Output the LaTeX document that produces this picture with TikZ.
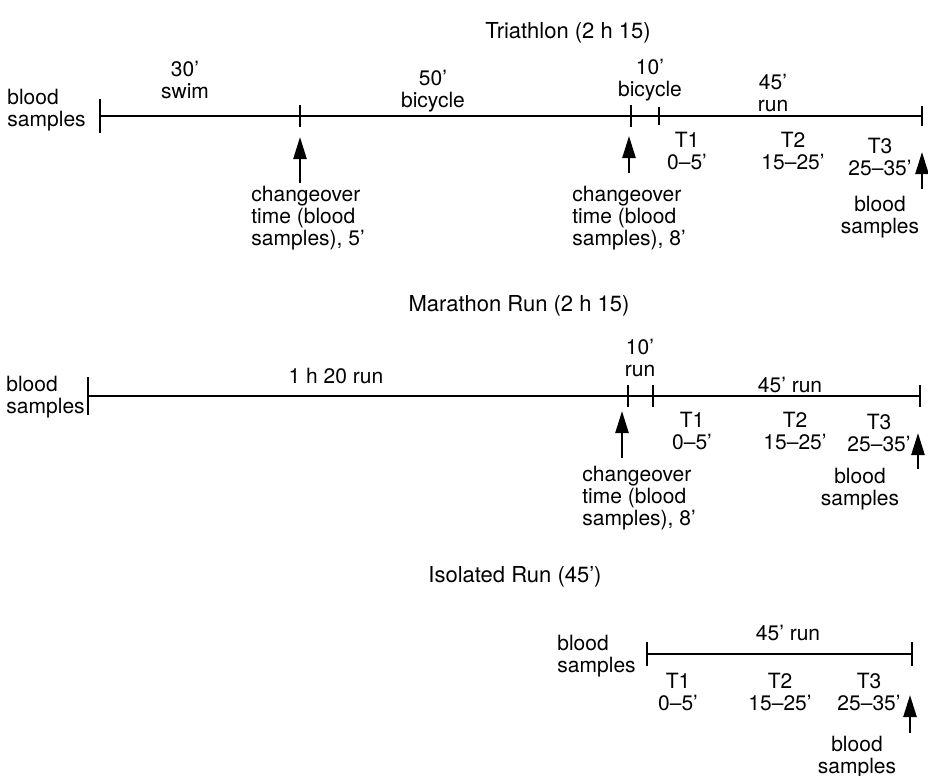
\documentclass[tikz,border=0pt]{standalone}
\usepackage{fontspec}
\setmainfont{TeX Gyre Heros}
\usetikzlibrary{arrows.meta}

\begin{document}
\begin{tikzpicture}[x=0.5pt,y=-0.5pt,
  every node/.style={font=\fontsize{10.5}{11}\selectfont,inner sep=0pt,align=center},
  ttl/.style={font=\fontsize{11}{13}\selectfont},
  lft/.style={align=left,anchor=west},
  line/.style={line width=1.2pt},
  up/.style={line width=1.2pt,-{Triangle[length=11pt,width=6.5pt]}}]
  \useasboundingbox (0,0) rectangle (928,776);

  % Triathlon
  \coordinate (s1) at (100,116);
  \coordinate (c1) at (300,116);
  \coordinate (c2) at (631,116);
  \coordinate (c3) at (659,116);
  \coordinate (e1) at (922,116);
  \draw[line] (s1) -- (e1);
  \foreach \p/\h in {s1/17,c1/11,c2/11,c3/9,e1/10}
    \draw[line] (\p) ++(0,-\h) -- ++(0,2*\h);
  \node[ttl] (tri) at (568,33) {Triathlon (2 h 15)};
  \node[lft] (tbs) at (7,110) {blood\\samples};
  \node (swim) at (185,80) {30'\\swim};
  \node (bike) at (433,91) {50'\\bicycle};
  \node (bike2) at (650,80) {10'\\bicycle};
  \node (run) at (773,93) {45'\\run};
  \node (tt1) at (687,151) {T1\\0--5'};
  \node (tt2) at (793,151) {T2\\15--25'};
  \node (tt3) at (880,157) {T3\\25--35'};
  \coordinate (a1) at (300,183);
  \coordinate (a1t) at (300,137);
  \coordinate (a2) at (629,173);
  \coordinate (a2t) at (629,136);
  \coordinate (a3) at (922,189);
  \coordinate (a3t) at (922,152);
  \draw[up] (a1) -- (a1t);
  \draw[up] (a2) -- (a2t);
  \draw[up] (a3) -- (a3t);
  \node[lft] (tch1) at (251,218) {changeover\\time (blood\\samples), 5'};
  \node[lft] (tch2) at (572,218) {changeover\\time (blood\\samples), 8'};
  \node (tbe) at (880,217) {blood\\samples};

  % Marathon
  \coordinate (s2) at (88,396);
  \coordinate (d1) at (628,396);
  \coordinate (d2) at (653,396);
  \coordinate (e2) at (920,396);
  \draw[line] (s2) -- (e2);
  \foreach \p/\h in {s2/19,d1/11,d2/11,e2/11}
    \draw[line] (\p) ++(0,-\h) -- ++(0,2*\h);
  \node[ttl] (mar) at (519,306) {Marathon Run (2 h 15)};
  \node[lft] (mbs) at (6,397) {blood\\samples};
  \node (mrun) at (336,376) {1 h 20 run};
  \node (mrun2) at (640,358) {10'\\run};
  \node (mrun3) at (790,385) {45' run};
  \node (mt1) at (692,431) {T1\\0--5'};
  \node (mt2) at (795,431) {T2\\15--25'};
  \node (mt3) at (879,433) {T3\\25--35'};
  \coordinate (b1) at (622,458);
  \coordinate (b1t) at (622,411);
  \coordinate (b2) at (918,469);
  \coordinate (b2t) at (918,433);
  \draw[up] (b1) -- (b1t);
  \draw[up] (b2) -- (b2t);
  \node[lft] (mch) at (582,498) {changeover\\time (blood\\samples), 8'};
  \node (mbe) at (860,489) {blood\\samples};

  % Isolated run
  \coordinate (s3) at (647,654);
  \coordinate (e3) at (912,654);
  \draw[line] (s3) -- (e3);
  \foreach \p in {s3,e3}
    \draw[line] (\p) ++(0,-12) -- ++(0,24);
  \node[ttl] (iso) at (515,577) {Isolated Run (45')};
  \node[lft] (ibs) at (557,656) {blood\\samples};
  \node (irun) at (788,633) {45' run};
  \node (it1) at (678,692) {T1\\0--5'};
  \node (it2) at (780,692) {T2\\15--25'};
  \node (it3) at (869,692) {T3\\25--35'};
  \coordinate (g1) at (910,733);
  \coordinate (g1t) at (910,695);
  \draw[up] (g1) -- (g1t);
  \node (ibe) at (857,757) {blood\\samples};
\end{tikzpicture}
\end{document}
